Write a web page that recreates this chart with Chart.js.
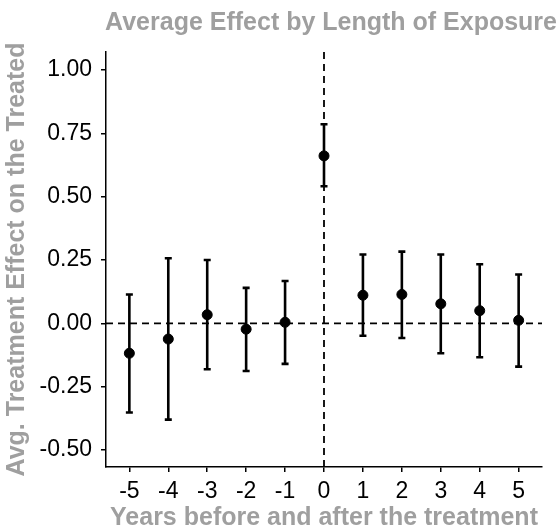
<!DOCTYPE html>
<html>
<head>
<meta charset="utf-8">
<script src="https://cdn.jsdelivr.net/npm/chart.js@4/dist/chart.umd.min.js"></script>
<style>
  html, body { margin: 0; padding: 0; background: #fff; }
  #wrap { width: 560px; height: 531px; }
</style>
</head>
<body>
<div id="wrap"><canvas id="effectChart" width="560" height="531"></canvas></div>
<script>
var years = [-5, -4, -3, -2, -1, 0, 1, 2, 3, 4, 5];
var estimates = [-0.118, -0.062, 0.034, -0.023, 0.004, 0.661, 0.111, 0.114, 0.077, 0.050, 0.012];
var lowerCI = [-0.352, -0.380, -0.181, -0.188, -0.160, 0.541, -0.049, -0.058, -0.118, -0.134, -0.171];
var upperCI = [0.114, 0.257, 0.250, 0.140, 0.167, 0.786, 0.272, 0.283, 0.272, 0.233, 0.193];
var xTicks = [-5, -4, -3, -2, -1, 0, 1, 2, 3, 4, 5];
var yTicks = [-0.5, -0.25, 0, 0.25, 0.5, 0.75, 1.0];

var xMin = -5.6, xMax = 5.6;
var yMin = -0.567, yMax = 1.071;

var points = years.map(function (x, i) { return { x: x, y: estimates[i] }; });

// error bars drawn from the CI arrays via the chart scales
var errorBars = {
  id: 'errorBars',
  beforeDatasetsDraw: function (chart) {
    var ctx = chart.ctx;
    var xs = chart.scales.x, ys = chart.scales.y;
    ctx.save();
    ctx.strokeStyle = '#000';
    ctx.lineWidth = 2.6;
    for (var i = 0; i < years.length; i++) {
      var px = xs.getPixelForValue(years[i]);
      var lo = ys.getPixelForValue(lowerCI[i]);
      var hi = ys.getPixelForValue(upperCI[i]);
      ctx.beginPath();
      ctx.moveTo(px, lo); ctx.lineTo(px, hi);
      ctx.moveTo(px - 3.5, lo); ctx.lineTo(px + 3.5, lo);
      ctx.moveTo(px - 3.5, hi); ctx.lineTo(px + 3.5, hi);
      ctx.stroke();
    }
    ctx.restore();
  }
};

var grey = '#9f9f9f';
var font = 'Liberation Sans, Arial, Helvetica, sans-serif';

new Chart(document.getElementById('effectChart'), {
  type: 'scatter',
  data: {
    datasets: [
      {
        label: 'estimate',
        data: points,
        backgroundColor: '#000',
        borderColor: '#000',
        pointRadius: 5,
        order: 1
      },
      {
        label: 'zero',
        type: 'line',
        data: [{ x: xMin, y: 0 }, { x: xMax, y: 0 }],
        borderColor: '#000',
        borderWidth: 1.8,
        borderDash: [7, 5],
        pointRadius: 0,
        order: 3
      },
      {
        label: 'treatment',
        type: 'line',
        data: [{ x: 0, y: yMin }, { x: 0, y: yMax }],
        borderColor: '#000',
        borderWidth: 1.8,
        borderDash: [7, 5],
        pointRadius: 0,
        order: 3
      }
    ]
  },
  options: {
    responsive: false,
    animation: false,
    layout: { padding: { left: 0, right: 3, top: 0, bottom: 0 } },
    plugins: {
      legend: { display: false },
      tooltip: { enabled: false },
      title: {
        display: true,
        align: 'end',
        text: 'Average Effect by Length of Exposure',
        color: grey,
        font: { family: font, size: 25, weight: 'bold' },
        padding: { top: 8.5, bottom: 13.5 }
      }
    },
    scales: {
      x: {
        type: 'linear',
        min: xMin,
        max: xMax,
        afterBuildTicks: function (s) { s.ticks = xTicks.map(function (v) { return { value: v }; }); },
        afterFit: function (s) { s.height = 64; },
        ticks: {
          color: '#000',
          font: { family: font, size: 23 },
          padding: 6,
          callback: function (v) { return String(v); }
        },
        grid: { drawOnChartArea: false, drawTicks: true, tickLength: 5, color: '#000', lineWidth: 1.5 },
        border: { display: true, color: '#000', width: 1.5 },
        title: {
          display: true,
          text: 'Years before and after the treatment',
          color: grey,
          font: { family: font, size: 25, weight: 'bold', lineHeight: 1 },
          padding: { top: 0, bottom: 0 }
        }
      },
      y: {
        type: 'linear',
        min: yMin,
        max: yMax,
        afterBuildTicks: function (s) { s.ticks = yTicks.map(function (v) { return { value: v }; }); },
        afterFit: function (s) { s.width = 106; },
        ticks: {
          color: '#000',
          font: { family: font, size: 23 },
          padding: 9,
          callback: function (v) { return v.toFixed(2); }
        },
        grid: { drawOnChartArea: false, drawTicks: true, tickLength: 5, color: '#000', lineWidth: 1.5 },
        border: { display: true, color: '#000', width: 1.5 },
        title: {
          display: true,
          text: 'Avg. Treatment Effect on the Treated',
          color: grey,
          font: { family: font, size: 25, weight: 'bold' },
          padding: { top: 2, bottom: 0 }
        }
      },
      // empty right-hand spacer so the plot ends where the reference does
      spacer: {
        type: 'linear',
        position: 'right',
        display: true,
        grid: { display: false },
        ticks: { display: false },
        border: { display: false },
        afterFit: function (s) { s.width = 15; }
      }
    }
  },
  plugins: [errorBars]
});
</script>
</body>
</html>
